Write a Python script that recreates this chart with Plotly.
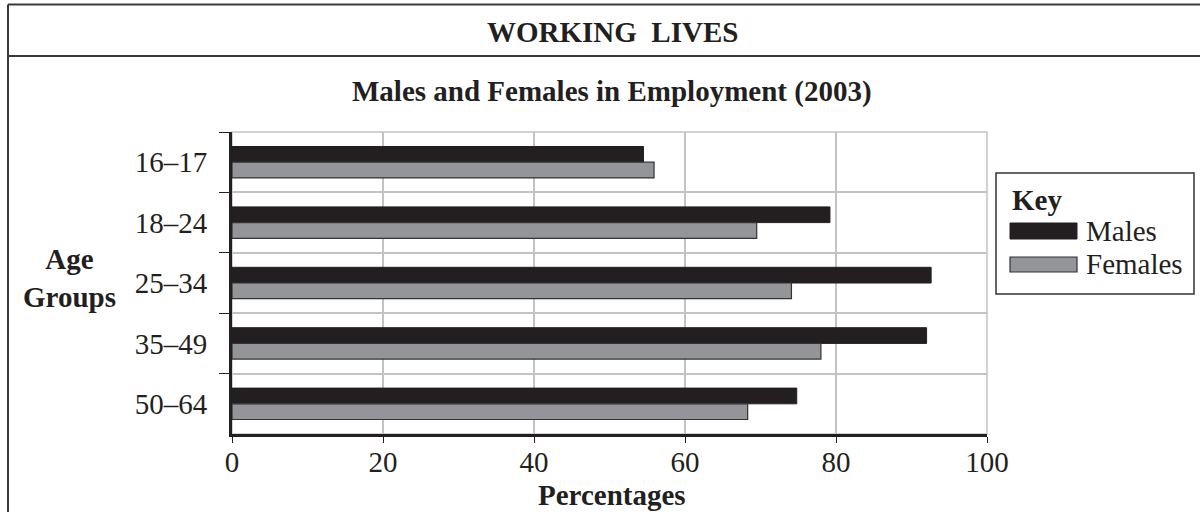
import plotly.graph_objects as go

# ---- data ----
age_groups = ["16–17", "18–24", "25–34", "35–49", "50–64"]
males = [54.5, 79.2, 92.6, 92.0, 74.8]
females = [55.9, 69.5, 74.1, 78.0, 68.3]
x_ticks = [0, 20, 40, 60, 80, 100]

MALE_C = "#231f20"
FEMALE_C = "#939598"
GRID_C = "#c3c3c5"
FONT = "Liberation Serif"
FS = 29

W, H = 1200, 512
L, R, T, B = 232, 987, 132, 434  # plot area in pixels


def px(x):
    return (x - L) / (R - L)


def py(y):
    return (B - y) / (B - T)


fig = go.Figure()
fig.add_trace(go.Bar(
    y=age_groups, x=males, orientation="h", name="Males",
    marker=dict(color=MALE_C, line=dict(color=MALE_C, width=1)),
    showlegend=False, hoverinfo="skip",
))
fig.add_trace(go.Bar(
    y=age_groups, x=females, orientation="h", name="Females",
    marker=dict(color=FEMALE_C, line=dict(color="#333333", width=1.2)),
    showlegend=False, hoverinfo="skip",
))

shapes = []
# plot frame (top & right grid edges)
shapes.append(dict(type="rect", xref="paper", yref="paper", x0=0, x1=1, y0=0, y1=1,
                   line=dict(color=GRID_C, width=1.5), layer="below"))
# outer frame
frame_c = "#3a3a3a"
shapes.append(dict(type="line", xref="paper", yref="paper", x0=px(8), x1=px(1201),
                   y0=py(4.5), y1=py(4.5), line=dict(color=frame_c, width=2)))
shapes.append(dict(type="line", xref="paper", yref="paper", x0=px(8), x1=px(8),
                   y0=py(4.5), y1=py(513), line=dict(color=frame_c, width=2)))
shapes.append(dict(type="line", xref="paper", yref="paper", x0=px(8), x1=px(1201),
                   y0=py(56), y1=py(56), line=dict(color=frame_c, width=2)))
# key box
shapes.append(dict(type="rect", xref="paper", yref="paper", x0=px(996), x1=px(1194),
                   y0=py(294), y1=py(173), line=dict(color="#333333", width=1.5),
                   fillcolor="white"))
shapes.append(dict(type="rect", xref="paper", yref="paper", x0=px(1010), x1=px(1077),
                   y0=py(239), y1=py(223), line=dict(color=MALE_C, width=1),
                   fillcolor=MALE_C))
shapes.append(dict(type="rect", xref="paper", yref="paper", x0=px(1010), x1=px(1077),
                   y0=py(272), y1=py(257), line=dict(color="#333333", width=1.2),
                   fillcolor=FEMALE_C))

ann = []
def text(s, x, y, size=FS, bold=False, xanchor="center"):
    ann.append(dict(text=f"<b>{s}</b>" if bold else s, xref="paper", yref="paper",
                    x=px(x), y=py(y), xanchor=xanchor, yanchor="middle",
                    showarrow=False, font=dict(family=FONT, size=size, color="#231f20")))

text("WORKING\u00a0 LIVES", 612, 32, bold=True)
text("Males and Females in Employment (2003)", 612, 91, bold=True)
text("Age<br>Groups", 69, 278, bold=True)
text("Percentages", 612, 495, bold=True)
text("Key", 1010, 200, bold=True, xanchor="left")
text("Males", 1084, 231, xanchor="left")
text("Females", 1084, 264, xanchor="left")

fig.update_layout(
    width=W, height=H,
    margin=dict(l=L, r=W - R, t=T, b=H - B, pad=0),
    paper_bgcolor="white", plot_bgcolor="white",
    barmode="group", bargap=0.48, bargroupgap=0,
    font=dict(family=FONT, size=FS, color="#231f20"),
    shapes=shapes, annotations=ann,
    xaxis=dict(
        range=[0, 100], tickvals=x_ticks, ticktext=[str(v) for v in x_ticks],
        showgrid=True, gridcolor=GRID_C, gridwidth=1.5,
        showline=True, linecolor=MALE_C, linewidth=3,
        ticks="outside", ticklen=6, tickwidth=1, tickcolor=MALE_C,
        ticklabelstandoff=-6,
        zeroline=False, fixedrange=True,
    ),
    yaxis=dict(
        type="category", categoryorder="array", categoryarray=age_groups,
        autorange="reversed", tickson="boundaries",
        showgrid=True, gridcolor=GRID_C, gridwidth=1.5,
        showline=True, linecolor=MALE_C, linewidth=3,
        ticks="outside", ticklen=10, tickwidth=1, tickcolor=MALE_C,
        ticklabelstandoff=16,
        zeroline=False, fixedrange=True,
    ),
)

fig.write_html("out.html")
